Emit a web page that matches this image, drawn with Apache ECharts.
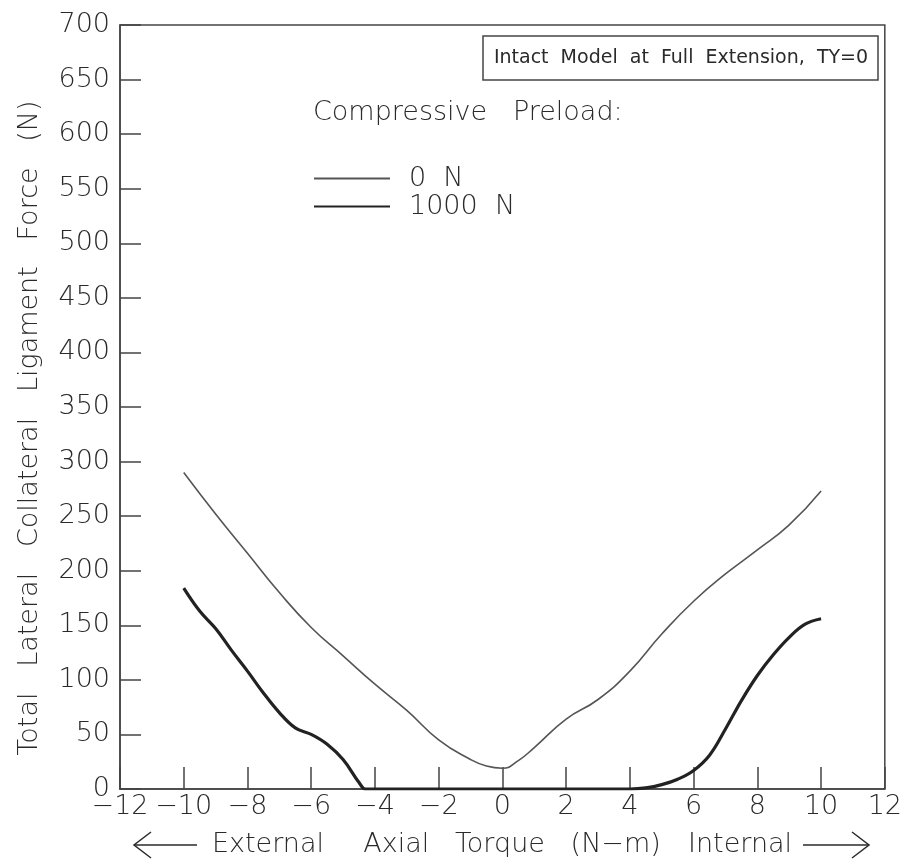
<!DOCTYPE html>
<html>
<head>
<meta charset="utf-8">
<script src="https://cdn.jsdelivr.net/npm/echarts@6/dist/echarts.min.js"></script>
<style>
  html, body { margin: 0; padding: 0; background: #fff; }
</style>
</head>
<body>
<div id="chart" style="width: 905px; height: 865px"></div>
<script>
// 0 N preload (thin line)
var thinX = [-10, -9, -8, -7, -6, -5, -4, -3, -2, -1, -0.5, 0, 0.5, 1, 2, 3, 4, 5, 6, 7, 8, 9, 10]
var thinY = [290, 252, 216, 180, 148, 122, 96, 72, 45, 27, 21, 19, 26, 38, 64, 82, 108, 142, 172, 197, 219, 242, 273]

// 1000 N preload (thick line)
var thickX = [-10, -9.5, -9, -8.5, -8, -7.5, -7, -6.5, -6, -5.5, -5, -4.5, -4.3, -4, -2, 0, 2, 4, 4.5, 5, 5.5, 6, 6.5, 7, 7.5, 8, 8.5, 9, 9.5, 10]
var thickY = [184, 163, 147, 127, 108, 88, 70, 56, 50, 41, 27, 6, 0, 0, 0, 0, 0, 0, 1, 4, 9, 17, 31, 55, 81, 104, 123, 139, 151, 156]

var seriesNames = ['0  N', '1000  N']

function pairs (xs, ys) {
  return xs.map(function (x, i) { return [x, ys[i]] })
}

var font = 'DejaVu Sans'
var ink = '#2a2a2a'
var txt = function (size) { return '200 ' + size + 'px "DejaVu Sans"' }

var chart = echarts.init(document.getElementById('chart'))
chart.setOption({
  backgroundColor: '#fff',
  animation: false,
  grid: {
    show: true,
    left: 120,
    right: 19,
    top: 25,
    bottom: 76,
    borderColor: '#444',
    borderWidth: 1.5
  },
  xAxis: {
    type: 'value',
    min: -12,
    max: 12,
    interval: 2,
    axisLine: { onZero: false, lineStyle: { color: '#444', width: 1.5 } },
    axisTick: { inside: true, length: 22, lineStyle: { color: '#444', width: 1.5 } },
    splitLine: { show: false },
    axisLabel: {
      margin: 4,
      color: ink,
      fontFamily: font,
      fontWeight: 200,
      fontSize: 27,
      formatter: function (v) { return String(v).replace('-', '\u2212') }
    }
  },
  yAxis: {
    type: 'value',
    min: 0,
    max: 700,
    interval: 50,
    name: 'Total   Lateral   Collateral   Ligament   Force   (N)',
    nameLocation: 'middle',
    nameGap: 77,
    nameTextStyle: { color: ink, fontFamily: font, fontWeight: 200, fontSize: 27, padding: [0, 42, 0, 0] },
    axisLine: { onZero: false, lineStyle: { color: '#444', width: 1.5 } },
    axisTick: { inside: true, length: 21, lineStyle: { color: '#444', width: 1.5 } },
    splitLine: { show: false },
    axisLabel: { margin: 10, color: ink, fontFamily: font, fontWeight: 200, fontSize: 27 }
  },
  legend: {
    orient: 'vertical',
    left: 313,
    top: 165,
    padding: 0,
    itemWidth: 76,
    itemHeight: 14,
    itemGap: 1,
    data: seriesNames.map(function (n) {
      return { name: n, itemStyle: { opacity: 0 } }
    }),
    textStyle: { color: ink, fontFamily: font, fontWeight: 200, fontSize: 27, padding: [0, 0, 0, 14] }
  },
  graphic: [
    {
      type: 'rect',
      shape: { x: 483, y: 36, width: 395, height: 44 },
      style: { fill: '#fff', stroke: '#444', lineWidth: 1.5 }
    },
    {
      type: 'text',
      x: 681, y: 58,
      style: {
        text: 'Intact  Model  at  Full  Extension,  TY=0',
        fill: ink, font: '19px "DejaVu Sans"', align: 'center', verticalAlign: 'middle'
      }
    },
    {
      type: 'text',
      x: 313, y: 113,
      style: {
        text: 'Compressive   Preload:',
        fill: ink, font: txt(27), verticalAlign: 'middle'
      }
    },
    {
      type: 'text',
      x: 212, y: 845,
      style: { text: 'External', fill: ink, font: txt(27), verticalAlign: 'middle' }
    },
    {
      type: 'text',
      x: 512, y: 845,
      style: { text: 'Axial   Torque   (N\u2212m)', fill: ink, font: txt(27), align: 'center', verticalAlign: 'middle' }
    },
    {
      type: 'text',
      x: 688, y: 845,
      style: { text: 'Internal', fill: ink, font: txt(27), verticalAlign: 'middle' }
    },
    // arrows
    {
      type: 'polyline',
      shape: { points: [[151, 832], [134, 845], [151, 858]] },
      style: { fill: null, stroke: ink, lineWidth: 1.5 }
    },
    {
      type: 'line',
      shape: { x1: 134, y1: 845, x2: 197, y2: 845 },
      style: { stroke: ink, lineWidth: 1.5 }
    },
    {
      type: 'polyline',
      shape: { points: [[852, 832], [869, 845], [852, 858]] },
      style: { fill: null, stroke: ink, lineWidth: 1.5 }
    },
    {
      type: 'line',
      shape: { x1: 803, y1: 845, x2: 869, y2: 845 },
      style: { stroke: ink, lineWidth: 1.5 }
    }
  ],
  series: [
    {
      name: seriesNames[0],
      type: 'line',
      data: pairs(thinX, thinY),
      symbol: 'none',
      smooth: 0.5,
      lineStyle: { color: '#555', width: 1.6 },
      itemStyle: { color: '#555' }
    },
    {
      name: seriesNames[1],
      type: 'line',
      data: pairs(thickX, thickY),
      symbol: 'none',
      smooth: 0.4,
      lineStyle: { color: '#222', width: 3.2 },
      itemStyle: { color: '#222' }
    }
  ]
})
</script>
</body>
</html>
